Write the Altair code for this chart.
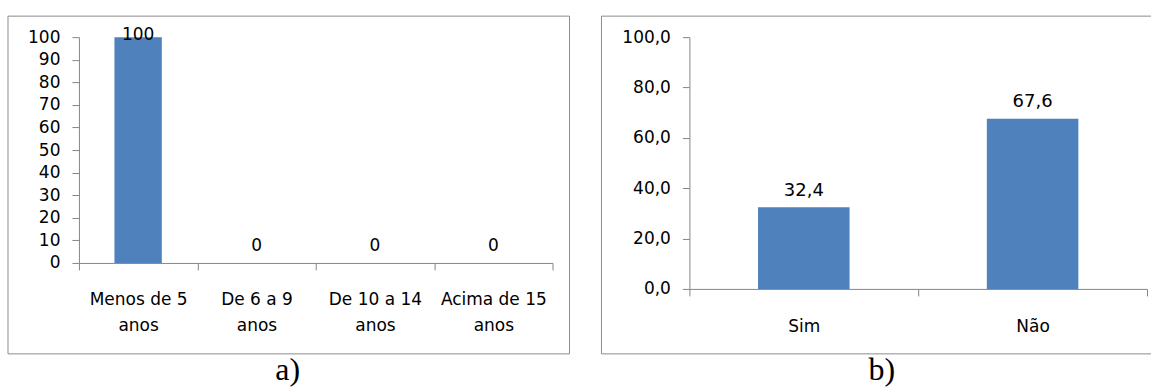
import altair as alt
import pandas as pd

# Panel a: age groups
FAIXAS = ["Menos de 5 anos", "De 6 a 9 anos", "De 10 a 14 anos", "Acima de 15 anos"]
PCT_FAIXAS = [100, 0, 0, 0]
Y_TICKS_A = [0, 10, 20, 30, 40, 50, 60, 70, 80, 90, 100]

# Panel b: yes / no answers
RESPOSTAS = ["Sim", "Não"]
PCT_RESPOSTAS = [32.4, 67.6]
Y_TICKS_B = [0, 20, 40, 60, 80, 100]

BAR = "#4F81BD"
AXIS_GREY = "#868686"
FRAME_GREY = "#8c8c8c"
FONT = "DejaVu Sans"
SERIF = "Liberation Serif"

W_A, H_A = 474, 226
W_B, H_B = 458, 252

df_a = pd.DataFrame({"faixa": FAIXAS, "pct": PCT_FAIXAS})
df_b = pd.DataFrame({"resposta": RESPOSTAS, "pct": PCT_RESPOSTAS})
one = pd.DataFrame({"k": [0]})


def y_axis(values, label_expr):
    return alt.Axis(
        values=values, tickCount=len(values), labelExpr=label_expr, grid=False, title=None,
        domainColor=AXIS_GREY, tickColor=AXIS_GREY, tickSize=7,
        labelPadding=12, labelFont=FONT, labelFontSize=17, labelColor="black",
        labelOverlap=False, labelFlush=False, labelBound=False,
    )


def x_axis(label_expr, pad):
    return alt.Axis(
        labelAngle=0, tickBand="extent", labelExpr=label_expr, labelLineHeight=26,
        labelPadding=pad, tickSize=7, domainColor=AXIS_GREY, tickColor=AXIS_GREY,
        labelFont=FONT, labelFontSize=17, labelColor="black", title=None, grid=False,
        labelOverlap=False,
    )


# ---------- panel a ----------
xa = alt.X("faixa:N", sort=FAIXAS,
           scale=alt.Scale(paddingInner=0, paddingOuter=0),
           axis=x_axis("datum.label ? [replace(datum.label, ' anos', ''), 'anos'] : ''", 22))
ya = alt.Y("pct:Q", scale=alt.Scale(domain=[0, 100], nice=False),
           axis=y_axis(Y_TICKS_A, "format(datum.value, 'd')"))

base_a = alt.Chart(df_a)
bars_a = base_a.mark_bar(color=BAR, width=alt.RelativeBandSize(0.4)).encode(x=xa, y=ya)
lab_a = base_a.mark_text(font=FONT, fontSize=17, baseline="alphabetic", dy=-12).encode(
    x=alt.X("faixa:N", sort=FAIXAS), y="pct:Q", text=alt.Text("pct:Q", format="d")
).transform_filter("datum.pct < 100")
# the label of a full-height bar stays just inside the plot
lab_a_top = base_a.mark_text(font=FONT, fontSize=17, baseline="alphabetic", dy=3).encode(
    x=alt.X("faixa:N", sort=FAIXAS), y="pct:Q", text=alt.Text("pct:Q", format="d")
).transform_filter("datum.pct >= 100")
frame_a = alt.Chart(one).mark_rect(fillOpacity=0, stroke=FRAME_GREY, strokeWidth=1).encode(
    x=alt.value(-71), x2=alt.value(W_A + 17), y=alt.value(-21), y2=alt.value(317)
)
cap_a = alt.Chart(one).mark_text(text="a)", font=SERIF, fontSize=32, align="center",
                                 baseline="alphabetic", color="black").encode(
    x=alt.value(209), y=alt.value(343.5)
)
panel_a = alt.layer(frame_a, bars_a, lab_a, lab_a_top, cap_a).properties(width=W_A, height=H_A)

# ---------- panel b ----------
xb = alt.X("resposta:N", sort=RESPOSTAS,
           scale=alt.Scale(paddingInner=0, paddingOuter=0),
           axis=x_axis("datum.label", 23))
yb = alt.Y("pct:Q", scale=alt.Scale(domain=[0, 100], nice=False),
           axis=y_axis(Y_TICKS_B, "replace(format(datum.value, '.1f'), '.', ',')"))

base_b = alt.Chart(df_b)
bars_b = base_b.mark_bar(color=BAR, width=alt.RelativeBandSize(0.4)).encode(x=xb, y=yb)
lab_b = base_b.mark_text(font=FONT, fontSize=18, baseline="alphabetic", dy=-11.5).encode(
    x=alt.X("resposta:N", sort=RESPOSTAS), y="pct:Q",
    text="rotulo:N"
).transform_calculate(rotulo="replace(format(datum.pct, '.1f'), '.', ',')")
frame_b_top = alt.Chart(one).mark_rule(stroke=FRAME_GREY, strokeWidth=1).encode(
    x=alt.value(-88), x2=alt.value(W_B + 4), y=alt.value(-21)
)
frame_b_bottom = alt.Chart(one).mark_rule(stroke=FRAME_GREY, strokeWidth=1).encode(
    x=alt.value(-88), x2=alt.value(W_B + 4), y=alt.value(317)
)
frame_b_left = alt.Chart(one).mark_rule(stroke=FRAME_GREY, strokeWidth=1).encode(
    x=alt.value(-88), y=alt.value(-21), y2=alt.value(317)
)
cap_b = alt.Chart(one).mark_text(text="b)", font=SERIF, fontSize=32, align="center",
                                 baseline="alphabetic", color="black").encode(
    x=alt.value(192.5), y=alt.value(343.5)
)
panel_b = alt.layer(frame_b_top, frame_b_bottom, frame_b_left, bars_b, lab_b, cap_b).properties(
    width=W_B, height=H_B
)

chart = alt.hconcat(panel_a, panel_b, spacing=30).properties(
    padding={"left": 7, "top": 15, "right": 0, "bottom": 0},
    background="white",
).configure_view(strokeWidth=0)

chart.save("out.html", embed_options={"renderer": "svg", "actions": False})
